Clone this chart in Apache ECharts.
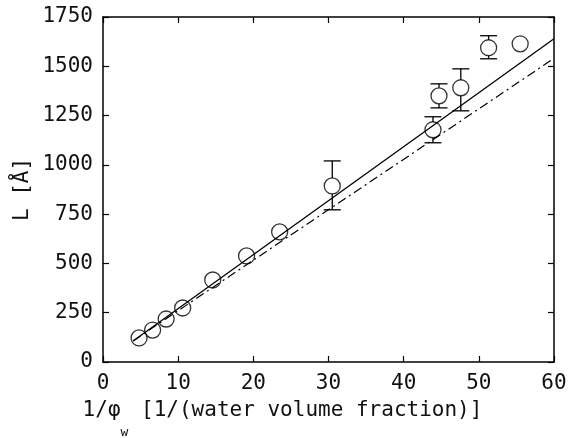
<!DOCTYPE html>
<html>
<head>
<meta charset="utf-8">
<script src="https://cdn.jsdelivr.net/npm/echarts@6/dist/echarts.min.js"></script>
<style>
html,body{margin:0;padding:0;background:#fff}
#chart{width:569px;height:438px}
</style>
</head>
<body>
<div id="chart"></div>
<script>
// measured points: 1/phi_w vs repeat distance L
var invPhi  = [4.8, 6.6, 8.4, 10.6, 14.6, 19.1, 23.5, 30.5, 43.9, 44.7, 47.6, 51.3, 55.5];
var lengthA = [122, 162, 218, 274, 416, 538, 660, 893, 1178, 1350, 1391, 1594, 1614];

// error bars (only some points have them)
var errX    = [30.5, 43.9, 44.7, 47.6, 51.3];
var errY    = [893, 1178, 1350, 1391, 1594];
var errLow  = [772, 1112, 1289, 1274, 1538];
var errHigh = [1020, 1244, 1411, 1487, 1655];

// fit lines
var fitX        = [4, 60];
var fitSolid    = [107, 1640];
var fitDashDot  = [107, 1540];

var xTicks = [0, 10, 20, 30, 40, 50, 60];
var yTicks = [0, 250, 500, 750, 1000, 1250, 1500, 1750];

var FONT = "'DejaVu Sans Mono', monospace";
var R = 8; // circle radius in px

function pairs(xs, ys){
  var out = [];
  for (var i = 0; i < xs.length; i++) out.push([xs[i], ys[i]]);
  return out;
}

var errData = [];
for (var i = 0; i < errX.length; i++) errData.push([errX[i], errY[i], errLow[i], errHigh[i]]);

function axisLine() { return { show: true, onZero: false, lineStyle: { color: '#000', width: 1.5 } }; }
// ticks point into the plot
function tickIn() { return { show: true, inside: true, length: 6, lineStyle: { color: '#000', width: 1.2 } }; }

var option = {
  animation: false,
  backgroundColor: '#fff',
  grid: { left: 103, right: 15, top: 17, bottom: 76, outerBoundsMode: 'none', containLabel: false },
  xAxis: [
    {
      type: 'value', min: xTicks[0], max: xTicks[xTicks.length - 1], interval: 10,
      axisLine: axisLine(), axisTick: tickIn(), splitLine: { show: false },
      axisLabel: { color: '#111', fontFamily: FONT, fontSize: 21, margin: 11,
        formatter: function (v) { return String(v); } },
      name: '{a|1/φ}{b|w}{a| [1/(water volume fraction)]}',
      nameLocation: 'middle',
      nameGap: 38,
      nameMoveOverlap: false,
      nameTextStyle: {
        padding: [0, 92, 0, 0],
        rich: {
          a: { fontFamily: FONT, fontSize: 21, color: '#111', lineHeight: 24, verticalAlign: 'top' },
          b: { fontFamily: FONT, fontSize: 13, color: '#111', lineHeight: 12, padding: [26, 0, 0, 0], verticalAlign: 'top' }
        }
      }
    },
    {
      type: 'value', position: 'top', min: xTicks[0], max: xTicks[xTicks.length - 1], interval: 10,
      axisLine: axisLine(), axisTick: tickIn(), axisLabel: { show: false }, splitLine: { show: false }
    }
  ],
  yAxis: [
    {
      type: 'value', min: yTicks[0], max: yTicks[yTicks.length - 1], interval: 250,
      axisLine: axisLine(), axisTick: tickIn(), splitLine: { show: false },
      axisLabel: { color: '#111', fontFamily: FONT, fontSize: 21, margin: 10,
        formatter: function (v) { return String(v); } },
      name: 'L [Å]',
      nameLocation: 'middle',
      nameGap: 70,
      nameMoveOverlap: false,
      nameTextStyle: { fontFamily: FONT, fontSize: 21, color: '#111' }
    },
    {
      type: 'value', position: 'right', min: yTicks[0], max: yTicks[yTicks.length - 1], interval: 250,
      axisLine: axisLine(), axisTick: tickIn(), axisLabel: { show: false }, splitLine: { show: false }
    }
  ],
  series: [
    {
      name: 'fit',
      type: 'line',
      data: pairs(fitX, fitSolid),
      symbol: 'none',
      lineStyle: { color: '#000', width: 1.3, type: 'solid' },
      z: 2
    },
    {
      name: 'fit2',
      type: 'line',
      data: pairs(fitX, fitDashDot),
      symbol: 'none',
      lineStyle: { color: '#000', width: 1.2, type: [9, 4, 2, 4] },
      z: 2
    },
    {
      name: 'err',
      type: 'custom',
      data: errData,
      renderItem: function (params, api) {
        var c = api.coord([api.value(0), api.value(1)]);
        var lo = api.coord([api.value(0), api.value(2)]);
        var hi = api.coord([api.value(0), api.value(3)]);
        var cap = 8.5;
        var st = { stroke: '#000', lineWidth: 1.3 };
        return {
          type: 'group',
          children: [
            { type: 'line', shape: { x1: hi[0], y1: hi[1], x2: hi[0], y2: c[1] - R }, style: st },
            { type: 'line', shape: { x1: lo[0], y1: c[1] + R, x2: lo[0], y2: lo[1] }, style: st },
            { type: 'line', shape: { x1: hi[0] - cap, y1: hi[1], x2: hi[0] + cap, y2: hi[1] }, style: st },
            { type: 'line', shape: { x1: lo[0] - cap, y1: lo[1], x2: lo[0] + cap, y2: lo[1] }, style: st }
          ]
        };
      },
      z: 3
    },
    {
      name: 'data',
      type: 'scatter',
      data: pairs(invPhi, lengthA),
      symbol: 'circle',
      symbolSize: 2 * R,
      itemStyle: { color: 'rgba(0,0,0,0)', borderColor: '#000', borderWidth: 1.3 },
      z: 4
    }
  ]
};

var chart = echarts.init(document.getElementById('chart'));
chart.setOption(option);
</script>
</body>
</html>
